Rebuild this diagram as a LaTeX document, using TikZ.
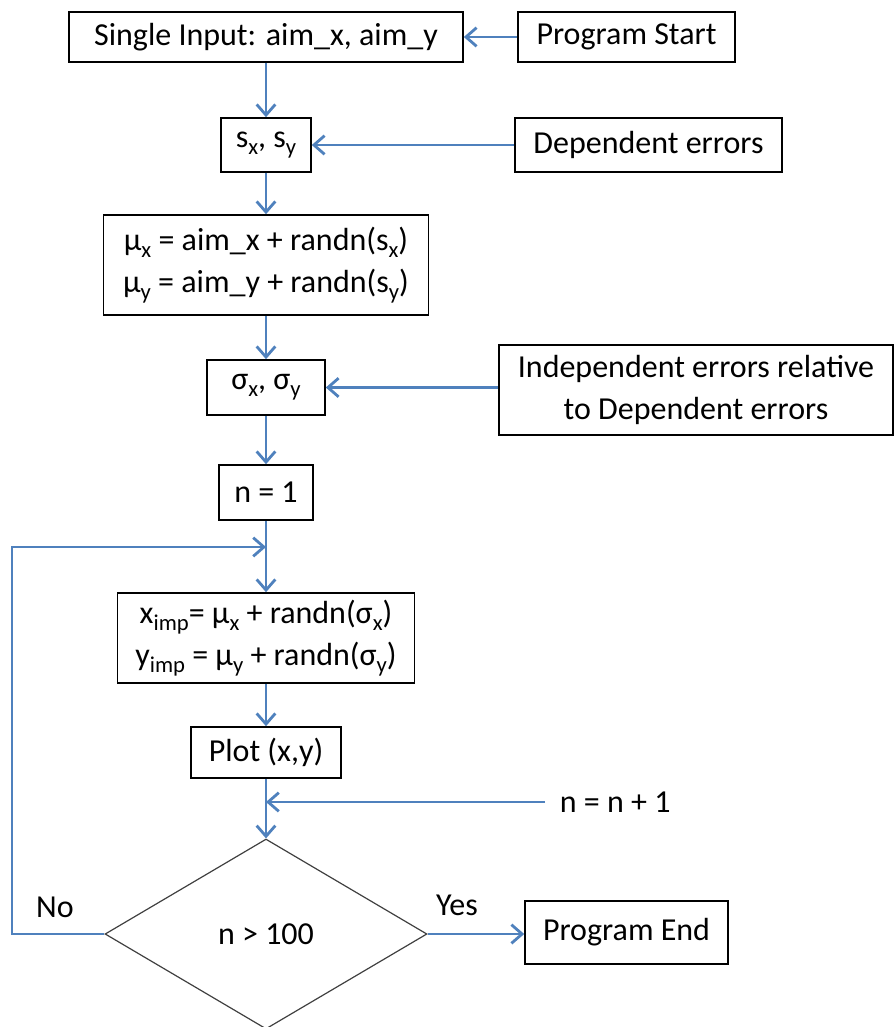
\documentclass[tikz,border=0pt]{standalone}
\usepackage{fontspec}
\setmainfont{Carlito}
\usetikzlibrary{arrows.meta,shapes.geometric}
\definecolor{flowblue}{HTML}{4F81BD}
\newcommand{\sbx}[1]{\raisebox{-0.22em}{\fontsize{17}{17}\selectfont #1}}
\begin{document}
\begin{tikzpicture}[x=0.75pt,y=-0.75pt,
  box/.style={draw=black,line width=1.2pt,inner sep=0pt,align=center,font=\fontsize{24}{31}\selectfont},
  lbl/.style={inner sep=0pt,font=\fontsize{24}{29}\selectfont},
  arr/.style={draw=flowblue,line width=2.1pt,-{Straight Barb[length=8pt,width=14pt]}}]
\useasboundingbox (0,0) rectangle (894,1027);
\node[box,minimum width=295.5pt,minimum height=37.5pt] (in) at (266,37) {Single Input: aim\_x, aim\_y};
\node[box,minimum width=162.75pt,minimum height=37.5pt] (start) at (626.5,37) {Program Start};
\node[box,minimum width=67.5pt,minimum height=40.5pt] (s) at (266,145) {s\sbx{x}, s\sbx{y}};
\node[box,minimum width=200.25pt,minimum height=40.5pt] (dep) at (648.5,145) {Dependent errors};
\node[box,minimum width=243.75pt,minimum height=75pt] (mu) at (266,265) {μ\sbx{x} = aim\_x + randn(s\sbx{x})\\ μ\sbx{y} = aim\_y + randn(s\sbx{y})};
\node[box,minimum width=88.5pt,minimum height=41.25pt] (sig) at (266,387.5) {σ\sbx{x}, σ\sbx{y}};
\node[box,minimum width=295.5pt,minimum height=67.5pt] (ind) at (696,390) {Independent errors relative\\ to Dependent errors};
\node[box,minimum width=70.5pt,minimum height=41.25pt] (n1) at (266,492.5) {n = 1};
\node[box,minimum width=222.75pt,minimum height=67.5pt] (xy) at (266,638) {x\sbx{imp}= μ\sbx{x} + randn(σ\sbx{x})\\ y\sbx{imp} = μ\sbx{y} + randn(σ\sbx{y})};
\node[box,minimum width=112.5pt,minimum height=38.25pt] (plot) at (266,752.5) {Plot (x,y)};
\node[diamond,draw=black!75,line width=0.9pt,inner sep=0pt,minimum width=241.5pt,minimum height=142.5pt,font=\fontsize{24}{29}\selectfont] (dia) at (266,934) {n > 100};
\node[box,minimum width=152.25pt,minimum height=47.25pt] (end) at (626.5,932.5) {Program End};
\node[lbl,anchor=west,inner xsep=11pt] (inc) at (545,802) {n = n + 1};
\node[lbl] (no) at (55,907) {No};
\node[lbl] (yes) at (457,905) {Yes};
\coordinate (merge) at (266,547);
\coordinate (corner) at (12,547);
\coordinate (incm) at (266,802);
\draw[arr] (start.west) -- (in.east);
\draw[arr] (in.south) -- (s.north);
\draw[arr] (dep.west) -- (s.east);
\draw[arr] (s.south) -- (mu.north);
\draw[arr] (mu.south) -- (sig.north);
\draw[arr] (ind.west |- sig.east) -- (sig.east);
\draw[arr] (sig.south) -- (n1.north);
\draw[arr] (n1.south) -- (xy.north);
\draw[arr] (dia.west) -| (corner) -- (merge);
\draw[arr] (xy.south) -- (plot.north);
\draw[arr] (plot.south) -- (dia.north);
\draw[arr] (inc.west) -- (incm);
\draw[arr] (dia.east) -- (dia.east -| end.west);
\end{tikzpicture}
\end{document}
